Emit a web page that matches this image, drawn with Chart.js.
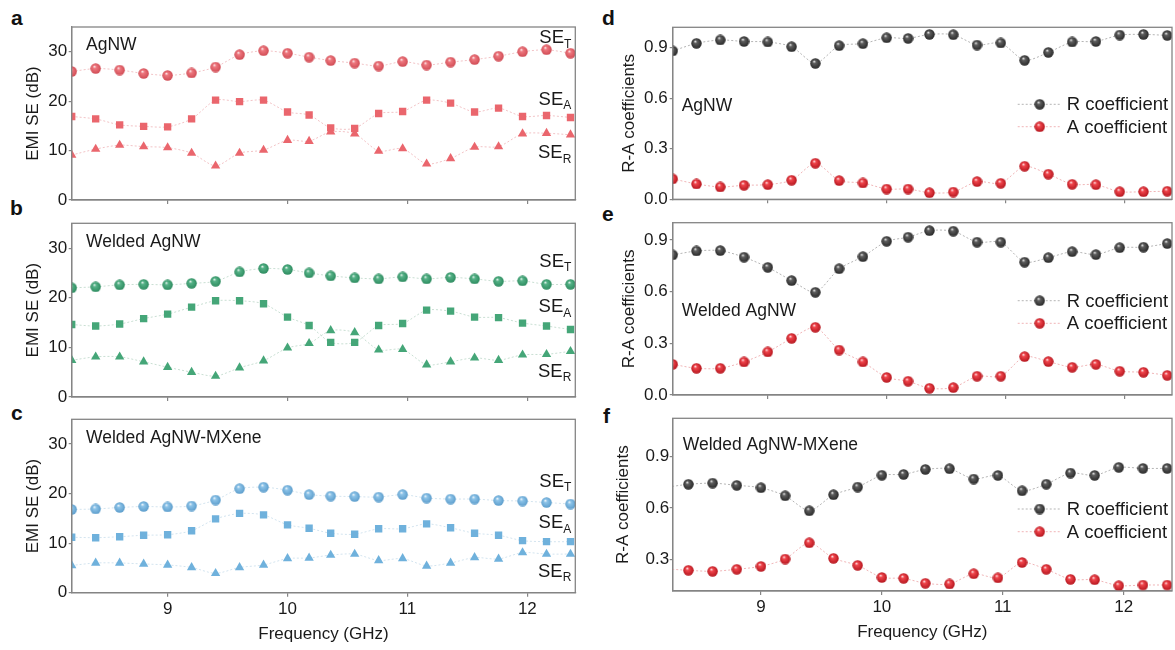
<!DOCTYPE html>
<html>
<head>
<meta charset="utf-8">
<script src="https://cdn.jsdelivr.net/npm/chart.js@4.4.1/dist/chart.umd.min.js"></script>
<style>
  html, body { margin: 0; padding: 0; background: #fff; overflow: hidden; width: 1175px; height: 650px; }
  canvas { position: absolute; }
  .tag { position: absolute; font: bold 21px 'Liberation Sans', Arial, sans-serif; line-height: 21px; color: #111; }
</style>
</head>
<body>
<div class="tag" style="left:11px;top:7px">a</div>
<div class="tag" style="left:10px;top:197px">b</div>
<div class="tag" style="left:11px;top:402px">c</div>
<div class="tag" style="left:602px;top:7px">d</div>
<div class="tag" style="left:602px;top:203px">e</div>
<div class="tag" style="left:603px;top:405px">f</div>

<canvas id="pa" width="600" height="216" style="left:0;top:0"></canvas>
<canvas id="pb" width="600" height="213" style="left:0;top:200px"></canvas>
<canvas id="pc" width="600" height="250" style="left:0;top:400px"></canvas>
<canvas id="pd" width="577" height="216" style="left:600px;top:0"></canvas>
<canvas id="pe" width="577" height="213" style="left:600px;top:200px"></canvas>
<canvas id="pf" width="577" height="250" style="left:600px;top:400px"></canvas>

<script>
// frequency points (GHz)
var freq = [8.2, 8.4, 8.6, 8.8, 9.0, 9.2, 9.4, 9.6, 9.8, 10.0, 10.18, 10.36, 10.56, 10.76, 10.96, 11.16, 11.36, 11.56, 11.76, 11.96, 12.16, 12.36];
var freqTicks = [9, 10, 11, 12];

// EMI SE (dB) - AgNW
var agT = [26.0, 26.6, 26.3, 25.6, 25.2, 25.7, 26.9, 29.4, 30.2, 29.7, 28.9, 28.2, 27.7, 27.1, 28.0, 27.3, 27.9, 28.4, 29.1, 30.0, 30.4, 29.7];
var agA = [16.9, 16.4, 15.2, 14.9, 14.8, 16.4, 20.2, 19.9, 20.2, 17.8, 17.2, 14.6, 14.5, 17.5, 17.9, 20.2, 19.6, 17.8, 18.6, 16.9, 17.1, 16.7];
var agR = [9.1, 10.3, 11.1, 10.8, 10.6, 9.5, 6.9, 9.5, 10.1, 12.1, 11.9, 13.8, 13.4, 9.9, 10.4, 7.3, 8.4, 10.7, 10.8, 13.4, 13.5, 13.2];

// EMI SE (dB) - Welded AgNW
var weldT = [22.0, 22.2, 22.6, 22.7, 22.6, 22.9, 23.3, 25.2, 25.9, 25.7, 25.0, 24.4, 24.0, 23.8, 24.2, 23.8, 24.1, 23.8, 23.3, 23.4, 22.7, 22.7];
var weldA = [14.6, 14.3, 14.7, 15.8, 16.7, 18.1, 19.4, 19.4, 18.8, 16.1, 14.4, 11.0, 11.0, 14.4, 14.8, 17.5, 17.3, 16.1, 16.0, 14.9, 14.3, 13.6];
var weldR = [7.4, 8.1, 8.1, 7.1, 6.0, 5.0, 4.2, 5.9, 7.3, 9.9, 10.8, 13.4, 13.0, 9.5, 9.6, 6.5, 7.1, 7.9, 7.4, 8.5, 8.6, 9.2];

// EMI SE (dB) - Welded AgNW-MXene
var mxT = [16.8, 16.9, 17.2, 17.4, 17.3, 17.5, 18.7, 21.0, 21.3, 20.7, 19.8, 19.5, 19.4, 19.3, 19.8, 19.1, 18.9, 18.9, 18.6, 18.5, 18.2, 17.9];
var mxA = [11.2, 11.1, 11.3, 11.6, 11.7, 12.5, 14.9, 16.0, 15.7, 13.7, 13.0, 12.0, 11.8, 12.9, 12.9, 13.9, 13.1, 12.0, 11.6, 10.5, 10.3, 10.3];
var mxR = [5.5, 6.0, 6.0, 5.8, 5.6, 5.1, 3.9, 5.1, 5.6, 6.9, 7.0, 7.6, 7.8, 6.5, 6.9, 5.4, 6.0, 7.1, 6.8, 8.1, 7.8, 7.8];

// R-A coefficients
var agRc = [0.88, 0.925, 0.945, 0.936, 0.933, 0.905, 0.806, 0.911, 0.923, 0.958, 0.954, 0.978, 0.976, 0.915, 0.927, 0.824, 0.871, 0.933, 0.936, 0.974, 0.978, 0.972];
var agAc = [0.121, 0.091, 0.073, 0.083, 0.087, 0.113, 0.214, 0.111, 0.097, 0.061, 0.061, 0.039, 0.043, 0.105, 0.095, 0.196, 0.149, 0.089, 0.087, 0.045, 0.045, 0.048];
var weldRc = [0.813, 0.836, 0.838, 0.800, 0.741, 0.664, 0.596, 0.733, 0.803, 0.892, 0.916, 0.954, 0.951, 0.887, 0.887, 0.771, 0.797, 0.832, 0.815, 0.855, 0.858, 0.879];
var weldAc = [0.178, 0.155, 0.155, 0.192, 0.250, 0.329, 0.393, 0.261, 0.192, 0.102, 0.080, 0.039, 0.043, 0.109, 0.109, 0.223, 0.194, 0.161, 0.178, 0.138, 0.132, 0.114];
var mxRc = [0.72, 0.739, 0.746, 0.733, 0.719, 0.672, 0.584, 0.678, 0.723, 0.792, 0.797, 0.826, 0.830, 0.770, 0.791, 0.701, 0.740, 0.805, 0.791, 0.838, 0.832, 0.832];
var mxAc = [0.245, 0.236, 0.230, 0.242, 0.259, 0.302, 0.397, 0.306, 0.265, 0.194, 0.189, 0.160, 0.156, 0.216, 0.192, 0.282, 0.242, 0.183, 0.181, 0.146, 0.150, 0.150];

var seTicks = [0, 10, 20, 30];
var raTicks = [0, 0.3, 0.6, 0.9];
var raTicksF = [0.3, 0.6, 0.9];

var FONT = "'Liberation Sans', Arial, sans-serif";
var AXIS = '#858585';
var INK = '#1a1a1a';
Chart.defaults.font.family = FONT;
Chart.defaults.color = INK;

// little shaded ball used as marker
function sphere(base, dark, d) {
  var c = document.createElement('canvas');
  c.width = c.height = d;
  var g = c.getContext('2d');
  var r = d / 2;
  var grad = g.createRadialGradient(r * 0.75, r * 0.6, 0, r, r, r);
  grad.addColorStop(0, '#ffffff');
  grad.addColorStop(0.3, base);
  grad.addColorStop(1, dark);
  g.fillStyle = grad;
  g.beginPath();
  g.arc(r, r, r - 0.3, 0, Math.PI * 2);
  g.fill();
  return c;
}

var pinkBall = sphere('#ee777e', '#cf4a53', 11);
var greenBall = sphere('#55b287', '#2c8a5e', 11);
var blueBall = sphere('#8cc3e8', '#5b9ccb', 11);
var grayBall = sphere('#5e5e5e', '#262626', 11);
var redBall = sphere('#f0454c', '#b3141c', 11);

function series(label, vals, style, color, lineColor, radius) {
  return {
    label: label,
    data: freq.map(function (x, i) { return { x: x, y: vals[i] }; }),
    borderColor: lineColor,
    borderWidth: 1,
    borderDash: [2, 2],
    tension: 0.25,
    pointStyle: style,
    pointRadius: radius || 5,
    pointBackgroundColor: color,
    pointBorderWidth: 0,
    fill: false
  };
}

// frame, sample names, SE labels and the small legends
function decor(p) {
  return {
    id: 'decor',
    afterDraw: function (chart) {
      var ctx = chart.ctx, a = chart.chartArea;
      ctx.save();
      ctx.strokeStyle = AXIS;
      ctx.lineWidth = 1.3;
      ctx.strokeRect(a.left, a.top, a.right - a.left, a.bottom - a.top);
      ctx.fillStyle = INK;
      ctx.textBaseline = 'middle';
      ctx.textAlign = 'left';
      ctx.font = '17.5px ' + FONT;
      ctx.fillText(p.name, a.left + p.nameX, a.top + p.nameY);
      (p.se || []).forEach(function (s) {
        ctx.font = '12px ' + FONT;
        var w2 = ctx.measureText(s.sub).width;
        ctx.font = '18.5px ' + FONT;
        var w1 = ctx.measureText('SE').width;
        var x = a.right - 4 - w1 - w2;
        ctx.fillText('SE', x, a.top + s.y);
        ctx.font = '12px ' + FONT;
        ctx.fillText(s.sub, x + w1, a.top + s.y + 6);
      });
      if (p.legend) {
        chart.data.datasets.forEach(function (ds, i) {
          var y = a.top + p.legend[i];
          ctx.strokeStyle = ds.borderColor;
          ctx.lineWidth = 1;
          ctx.setLineDash([2, 2]);
          ctx.beginPath();
          ctx.moveTo(a.left + 345, y);
          ctx.lineTo(a.left + 387, y);
          ctx.stroke();
          ctx.setLineDash([]);
          ctx.drawImage(ds.pointStyle, a.left + 367 - 5.5, y - 5.5);
          ctx.font = '18.5px ' + FONT;
          ctx.fillText(ds.label, a.left + 394, y + 1);
        });
      }
      ctx.restore();
    }
  };
}

function panel(id, p) {
  new Chart(document.getElementById(id), {
    type: 'line',
    data: { datasets: p.datasets },
    options: {
      responsive: false,
      animation: false,
      events: [],
      devicePixelRatio: 1,
      layout: { padding: { top: p.padTop, right: p.padRight, left: 0, bottom: 0 } },
      plugins: { legend: { display: false }, tooltip: { enabled: false } },
      scales: {
        x: {
          type: 'linear',
          min: p.xMin,
          max: 12.4,
          afterBuildTicks: function (s) { s.ticks = freqTicks.map(function (v) { return { value: v }; }); },
          afterFit: function (s) { s.height = p.xH; },
          grid: { drawOnChartArea: false, tickLength: 4, color: AXIS, lineWidth: 1.2 },
          border: { color: AXIS, width: 1.3 },
          ticks: { display: p.showX, font: { size: 17 }, color: INK, padding: 2 },
          title: { display: p.showX, text: 'Frequency (GHz)', font: { size: 17 }, color: INK, padding: { top: 0, bottom: p.xTitlePad || 5 } }
        },
        y: {
          type: 'linear',
          min: p.yMin,
          max: p.yMax,
          afterBuildTicks: function (s) { s.ticks = p.yTicks.map(function (v) { return { value: v }; }); },
          afterFit: function (s) { s.width = p.yW; },
          grid: { drawOnChartArea: false, tickLength: 3, color: AXIS, lineWidth: 1.2 },
          border: { color: AXIS, width: 1.3 },
          ticks: {
            font: { size: 17 }, color: INK, padding: p.yPad,
            callback: function (v) { return p.dec ? v.toFixed(1) : String(v); }
          },
          title: { display: true, text: p.yTitle, font: { size: 17 }, color: INK, padding: { top: p.yTitlePad, bottom: 0 } }
        }
      }
    },
    plugins: [decor(p)]
  });
}

var left = { xMin: 8.2, padRight: 24.7, yMin: 0, yMax: 35, yTicks: seTicks, yW: 71.7, yPad: 1.5, yTitle: 'EMI SE (dB)', yTitlePad: 23, nameX: 14.3 };
var right = { xMin: 8.2, padRight: 0, yTicks: raTicks, yW: 72.7, yPad: 2, yTitle: 'R-A coefficients', yTitlePad: 19, dec: true, nameX: 9 };

panel('pa', Object.assign({}, left, {
  padTop: 27, xH: 16, showX: false, name: 'AgNW', nameY: 18,
  se: [{ sub: 'T', y: 11.3 }, { sub: 'A', y: 73 }, { sub: 'R', y: 126.3 }],
  datasets: [
    series('SE_T', agT, pinkBall, '#ec6e75', '#f2c3c6'),
    series('SE_A', agA, 'rect', '#ea666d', '#f2c3c6', 5.2),
    series('SE_R', agR, 'triangle', '#ea666d', '#f2c3c6', 5.4)
  ]
}));

panel('pb', Object.assign({}, left, {
  padTop: 23.3, xH: 16, showX: false, name: 'Welded AgNW', nameY: 18.4,
  se: [{ sub: 'T', y: 38.4 }, { sub: 'A', y: 84 }, { sub: 'R', y: 148.4 }],
  datasets: [
    series('SE_T', weldT, greenBall, '#4aa87c', '#c9dfd3'),
    series('SE_A', weldA, 'rect', '#45a678', '#c9dfd3', 5.2),
    series('SE_R', weldR, 'triangle', '#45a678', '#c9dfd3', 5.4)
  ]
}));

panel('pc', Object.assign({}, left, {
  padTop: 19.3, xH: 57.3, showX: true, xTitlePad: 5, name: 'Welded AgNW-MXene', nameY: 18.7,
  se: [{ sub: 'T', y: 62.4 }, { sub: 'A', y: 104 }, { sub: 'R', y: 152.4 }],
  datasets: [
    series('SE_T', mxT, blueBall, '#7db9e1', '#d3e4ef'),
    series('SE_A', mxA, 'rect', '#6fb1dc', '#d3e4ef', 5.2),
    series('SE_R', mxR, 'triangle', '#6fb1dc', '#d3e4ef', 5.4)
  ]
}));

panel('pd', Object.assign({}, right, {
  padTop: 27.3, xH: 16.7, showX: false, yMin: 0, yMax: 1.02, name: 'AgNW', nameY: 78.7,
  legend: [77, 99.4],
  datasets: [
    series('R coefficient', agRc, grayBall, '#555', '#b5b5b5'),
    series('A coefficient', agAc, redBall, '#e33', '#f0b5b7')
  ]
}));

panel('pe', Object.assign({}, right, {
  padTop: 22.7, xH: 18, showX: false, yMin: 0, yMax: 1.0, name: 'Welded AgNW', nameY: 88.3,
  legend: [78, 100.6],
  datasets: [
    series('R coefficient', weldRc, grayBall, '#555', '#b5b5b5'),
    series('A coefficient', weldAc, redBall, '#e33', '#f0b5b7')
  ]
}));

panel('pf', Object.assign({}, right, {
  xMin: 8.27, padTop: 18.3, xH: 59, showX: true, xTitlePad: 7, yMin: 0.115, yMax: 1.125, yTicks: raTicksF,
  yPad: 0.5, yTitlePad: 13, name: 'Welded AgNW-MXene', nameX: 10, nameY: 26.7,
  legend: [90.7, 113.4],
  datasets: [
    series('R coefficient', mxRc, grayBall, '#555', '#b5b5b5'),
    series('A coefficient', mxAc, redBall, '#e33', '#f0b5b7')
  ]
}));
</script>
</body>
</html>
